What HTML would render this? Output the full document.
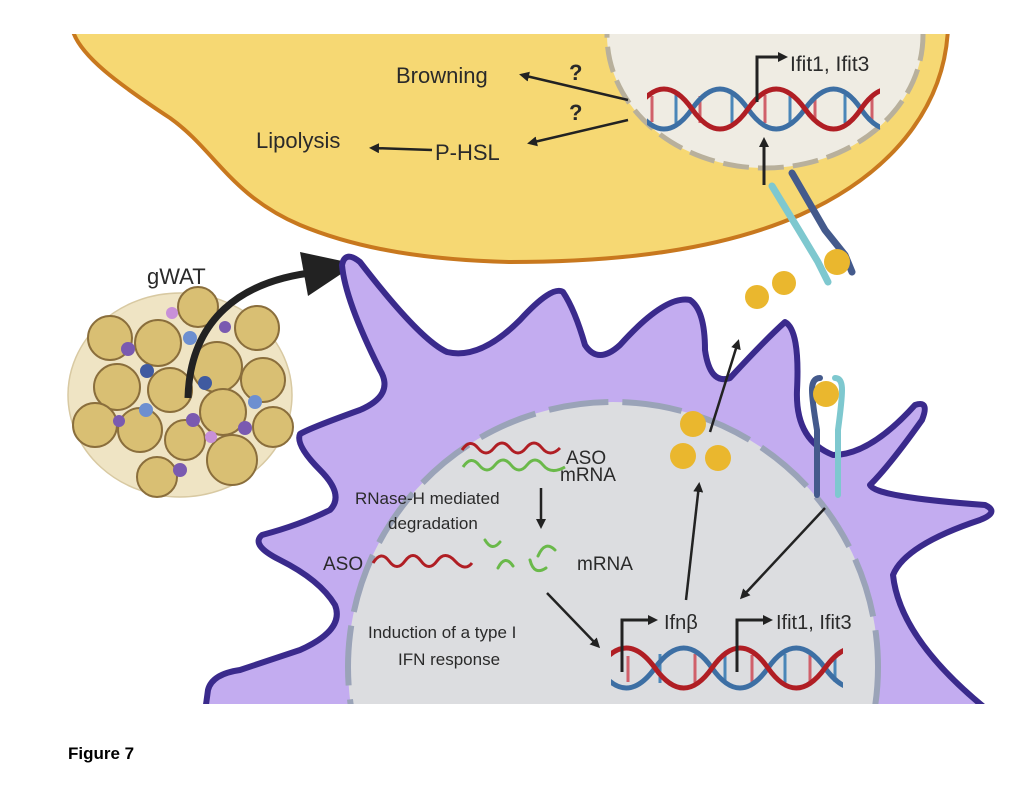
<!DOCTYPE html>
<html><head><meta charset="utf-8"><style>
html,body{margin:0;padding:0;background:#fff;width:1032px;height:809px;overflow:hidden;}
svg{display:block;}
text{font-family:"Liberation Sans",sans-serif;fill:#2a2a2a;}
</style></head><body>
<svg width="1032" height="809" viewBox="0 0 1032 809" xmlns="http://www.w3.org/2000/svg">
<defs>
<marker id="ah" markerWidth="10" markerHeight="10" refX="7" refY="5" orient="auto" markerUnits="userSpaceOnUse"><path d="M0,0 L10,5 L0,10 z" fill="#222"/></marker>
<clipPath id="clipTop"><rect x="0" y="34" width="1032" height="300"/></clipPath>
<clipPath id="clipBot"><rect x="0" y="0" width="1032" height="705"/></clipPath>
<clipPath id="h1"><rect x="647" y="60" width="233" height="90"/></clipPath>
<clipPath id="h2"><rect x="611" y="620" width="232" height="90"/></clipPath>
</defs>

<!-- Yellow adipocyte -->
<g clip-path="url(#clipTop)">
<path d="M72,28 C78,55 120,85 170,118 C215,150 230,195 300,225 C360,250 430,260 510,262 C620,262 720,250 800,215 C900,170 945,100 948,28 Z" fill="#f6d873" stroke="#c8781e" stroke-width="4"/>
<ellipse cx="765" cy="35" rx="158" ry="133" fill="#efece3" stroke="#b8b09c" stroke-width="5" stroke-dasharray="26,9"/>
</g>

<!-- top helix -->
<g clip-path="url(#h1)" stroke-width="5" fill="none">
<g stroke-width="3">
<line x1="652" y1="96" x2="652" y2="122" stroke="#d0606a"/><line x1="676" y1="95" x2="676" y2="123" stroke="#4a86b8"/>
<line x1="700" y1="96" x2="700" y2="123" stroke="#d0606a"/><line x1="732" y1="95" x2="732" y2="123" stroke="#4a86b8"/>
<line x1="765" y1="95" x2="765" y2="123" stroke="#d0606a"/><line x1="790" y1="96" x2="790" y2="123" stroke="#4a86b8"/>
<line x1="815" y1="96" x2="815" y2="122" stroke="#d0606a"/><line x1="845" y1="95" x2="845" y2="123" stroke="#4a86b8"/>
<line x1="872" y1="96" x2="872" y2="122" stroke="#d0606a"/>
</g>
<path d="M579,109 Q607,69 636,109 Q664,149 692,109 T748,109 T805,109 T861,109 T918,109" stroke="#3d6fa4"/>
<path d="M579,109 Q607,149 636,109 Q664,69 692,109 T748,109 T805,109 T861,109 T918,109" stroke="#b01e24"/>
</g>
<polyline points="757,102 757,57 785,57" fill="none" stroke="#222" stroke-width="3" marker-end="url(#ah)"/>
<text x="790" y="71" font-size="21">Ifit1, Ifit3</text>
<line x1="764" y1="185" x2="764" y2="140" stroke="#222" stroke-width="3" marker-end="url(#ah)"/>
<line x1="628" y1="100" x2="522" y2="75" stroke="#222" stroke-width="2.5" marker-end="url(#ah)"/>
<line x1="628" y1="120" x2="530" y2="143" stroke="#222" stroke-width="2.5" marker-end="url(#ah)"/>
<line x1="432" y1="150" x2="372" y2="148" stroke="#222" stroke-width="2.5" marker-end="url(#ah)"/>
<text x="396" y="83" font-size="22">Browning</text>
<text x="256" y="148" font-size="22">Lipolysis</text>
<text x="435" y="160" font-size="22">P-HSL</text>
<text x="569" y="80" font-size="22" font-weight="bold">?</text>
<text x="569" y="120" font-size="22" font-weight="bold">?</text>

<!-- top receptor -->
<path d="M772,186 L800,232 L818,262 L828,282" fill="none" stroke="#7ec8cf" stroke-width="7" stroke-linecap="round"/>
<path d="M792,173 L825,230 L845,255 L852,272" fill="none" stroke="#445a8c" stroke-width="7" stroke-linecap="round"/>
<circle cx="837" cy="262" r="13" fill="#eab72e"/>
<circle cx="757" cy="297" r="12" fill="#eab72e"/>
<circle cx="784" cy="283" r="12" fill="#eab72e"/>

<!-- gWAT -->
<text x="147" y="284" font-size="22">gWAT</text>
<ellipse cx="180" cy="395" rx="112" ry="102" fill="#efe4c4" stroke="#d8c9a2" stroke-width="1.5"/>
<g fill="#d9bf73" stroke="#8a6e3c" stroke-width="2">
<circle cx="110" cy="338" r="22"/><circle cx="158" cy="343" r="23"/><circle cx="198" cy="307" r="20"/>
<circle cx="257" cy="328" r="22"/><circle cx="117" cy="387" r="23"/><circle cx="170" cy="390" r="22"/>
<circle cx="217" cy="367" r="25"/><circle cx="263" cy="380" r="22"/><circle cx="95" cy="425" r="22"/>
<circle cx="140" cy="430" r="22"/><circle cx="223" cy="412" r="23"/><circle cx="185" cy="440" r="20"/>
<circle cx="273" cy="427" r="20"/><circle cx="232" cy="460" r="25"/><circle cx="157" cy="477" r="20"/>
</g>
<g>
<circle cx="190" cy="338" r="7" fill="#6d8fd0"/><circle cx="147" cy="371" r="7" fill="#3f5aa0"/>
<circle cx="205" cy="383" r="7" fill="#3f5aa0"/><circle cx="146" cy="410" r="7" fill="#6d8fd0"/>
<circle cx="255" cy="402" r="7" fill="#6d8fd0"/><circle cx="128" cy="349" r="7" fill="#7a5ab0"/>
<circle cx="193" cy="420" r="7" fill="#7a5ab0"/><circle cx="245" cy="428" r="7" fill="#7a5ab0"/>
<circle cx="119" cy="421" r="6" fill="#7a5ab0"/><circle cx="180" cy="470" r="7" fill="#7a5ab0"/>
<circle cx="172" cy="313" r="6" fill="#c890d8"/><circle cx="211" cy="437" r="6" fill="#c890d8"/>
<circle cx="225" cy="327" r="6" fill="#7a5ab0"/>
</g>
<path d="M188,398 C190,320 240,280 318,272" fill="none" stroke="#222" stroke-width="7"/>
<path d="M300,252 L356,264 L308,296 Z" fill="#222"/>

<!-- Purple cell -->
<g clip-path="url(#clipBot)">
<path d="M205,712 L208,690 Q212,674 240,670 L300,650 Q345,630 335,605 Q320,580 280,560 Q250,545 262,535 Q300,525 330,510 Q345,495 320,470 Q295,445 300,434 Q310,428 360,410 Q395,395 380,370 Q345,300 342,265 Q345,250 360,262 Q420,340 447,352 Q480,360 520,320 Q552,285 563,292 Q575,310 585,345 Q598,365 620,345 Q665,295 690,300 Q705,310 705,350 Q710,385 730,378 Q765,340 785,322 Q800,330 797,390 Q795,440 833,455 Q870,455 915,405 Q930,400 922,420 Q890,465 870,485 Q875,497 985,505 Q1000,512 980,520 Q905,545 893,575 Q900,640 990,712 Z" fill="#c3acf0" stroke="#3a2a8c" stroke-width="6" stroke-linejoin="round"/>
<circle cx="613" cy="667" r="265" fill="#dcdde0" stroke="#9aa3b8" stroke-width="6" stroke-dasharray="60,14"/>
</g>
<rect x="0" y="704" width="1032" height="105" fill="#fff"/>

<!-- lower receptor -->
<path d="M817,495 L817,430 Q812,400 812,390 Q812,378 820,378" fill="none" stroke="#445a8c" stroke-width="6" stroke-linecap="round"/>
<path d="M838,495 L838,430 Q842,400 842,390 Q842,378 835,378" fill="none" stroke="#7ec8cf" stroke-width="6" stroke-linecap="round"/>
<circle cx="826" cy="394" r="13" fill="#eab72e"/>
<circle cx="693" cy="424" r="13" fill="#eab72e"/><circle cx="683" cy="456" r="13" fill="#eab72e"/><circle cx="718" cy="458" r="13" fill="#eab72e"/>

<!-- arrows in cell -->
<line x1="710" y1="432" x2="738" y2="342" stroke="#222" stroke-width="2.5" marker-end="url(#ah)"/>
<line x1="686" y1="600" x2="699" y2="485" stroke="#222" stroke-width="2.5" marker-end="url(#ah)"/>
<line x1="825" y1="508" x2="742" y2="597" stroke="#222" stroke-width="2.5" marker-end="url(#ah)"/>
<line x1="547" y1="593" x2="598" y2="646" stroke="#222" stroke-width="2.5" marker-end="url(#ah)"/>
<line x1="541" y1="488" x2="541" y2="526" stroke="#222" stroke-width="2.5" marker-end="url(#ah)"/>

<!-- RNAs -->
<path d="M462,450 Q470,438 478,448 T494,448 T510,448 T526,448 T542,448 T560,448" fill="none" stroke="#b01e24" stroke-width="3"/>
<path d="M463,467 Q471,455 479,465 T495,465 T511,465 T527,465 T543,465 T565,467" fill="none" stroke="#6ab94a" stroke-width="3"/>
<path d="M373,563 Q381,550 389,561 T405,561 T421,561 T437,561 T455,561 T472,563" fill="none" stroke="#b01e24" stroke-width="3"/>
<g fill="none" stroke="#6ab94a" stroke-width="3" stroke-linecap="round">
<path d="M485,540 Q492,552 500,542"/><path d="M498,568 Q505,554 513,566"/><path d="M530,560 Q534,576 546,568"/><path d="M538,556 Q545,540 555,550"/>
</g>
<text x="566" y="464" font-size="19">ASO</text>
<text x="560" y="481" font-size="19">mRNA</text>
<text x="355" y="504" font-size="17">RNase-H mediated</text>
<text x="388" y="529" font-size="17">degradation</text>
<text x="323" y="570" font-size="19">ASO</text>
<text x="577" y="570" font-size="19">mRNA</text>
<text x="368" y="638" font-size="17">Induction of a type I</text>
<text x="398" y="665" font-size="17">IFN response</text>

<!-- bottom helix -->
<g clip-path="url(#h2)" stroke-width="5" fill="none">
<g stroke-width="3">
<line x1="628" y1="656" x2="628" y2="682" stroke="#d0606a"/><line x1="660" y1="654" x2="660" y2="683" stroke="#4a86b8"/>
<line x1="695" y1="654" x2="695" y2="683" stroke="#d0606a"/><line x1="725" y1="655" x2="725" y2="683" stroke="#4a86b8"/>
<line x1="752" y1="655" x2="752" y2="682" stroke="#d0606a"/><line x1="785" y1="654" x2="785" y2="683" stroke="#4a86b8"/>
<line x1="810" y1="655" x2="810" y2="682" stroke="#d0606a"/><line x1="835" y1="656" x2="835" y2="682" stroke="#4a86b8"/>
</g>
<path d="M598,668 Q626,708 655,668 T712,668 T768,668 T825,668 T882,668" stroke="#3d6fa4"/>
<path d="M598,668 Q626,628 655,668 T712,668 T768,668 T825,668 T882,668" stroke="#b01e24"/>
</g>
<polyline points="622,672 622,620 655,620" fill="none" stroke="#222" stroke-width="3" marker-end="url(#ah)"/>
<polyline points="737,672 737,620 770,620" fill="none" stroke="#222" stroke-width="3" marker-end="url(#ah)"/>
<text x="664" y="629" font-size="20">Ifnβ</text>
<text x="776" y="629" font-size="20">Ifit1, Ifit3</text>

<text x="68" y="759" font-size="17" font-weight="bold" style="fill:#000">Figure 7</text>
</svg>
</body></html>
